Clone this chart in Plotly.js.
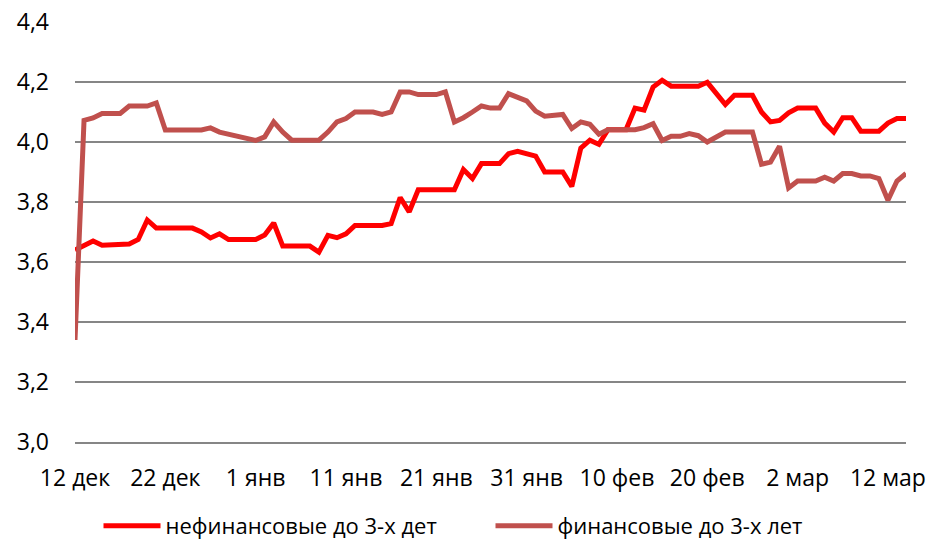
<!DOCTYPE html>
<html>
<head>
<meta charset="utf-8">
<script src="https://cdn.plot.ly/plotly-3.0.1.min.js"></script>
<style>
html,body{margin:0;padding:0;background:#fff;}
#chart{width:930px;height:546px;}
</style>
</head>
<body>
<div id="chart"></div>
<script>
// Series 1: нефинансовые до 3-х дет
var nfDates = ['2014-12-12','2014-12-14','2014-12-15','2014-12-17','2014-12-18','2014-12-19','2014-12-20','2014-12-21','2014-12-25','2014-12-26','2014-12-27','2014-12-28','2014-12-29','2015-01-01','2015-01-02','2015-01-03','2015-01-04','2015-01-07','2015-01-08','2015-01-09','2015-01-10','2015-01-11','2015-01-12','2015-01-15','2015-01-16','2015-01-17','2015-01-18','2015-01-19','2015-01-23','2015-01-24','2015-01-25','2015-01-26','2015-01-28','2015-01-29','2015-01-30','2015-02-01','2015-02-02','2015-02-04','2015-02-05','2015-02-06','2015-02-07','2015-02-08','2015-02-09','2015-02-11','2015-02-12','2015-02-13','2015-02-14','2015-02-15','2015-02-16','2015-02-19','2015-02-20','2015-02-22','2015-02-23','2015-02-25','2015-02-26','2015-02-27','2015-02-28','2015-03-01','2015-03-02','2015-03-04','2015-03-05','2015-03-06','2015-03-07','2015-03-08','2015-03-09','2015-03-11','2015-03-12','2015-03-13','2015-03-14'];
var nfValues = [3.64,3.67,3.656,3.656,3.66,3.675,3.74,3.713,3.713,3.70,3.68,3.694,3.675,3.675,3.69,3.73,3.653,3.653,3.633,3.689,3.681,3.694,3.722,3.722,3.728,3.815,3.767,3.841,3.841,3.908,3.878,3.928,3.928,3.961,3.969,3.953,3.90,3.90,3.852,3.98,4.006,3.992,4.041,4.041,4.113,4.106,4.183,4.206,4.186,4.186,4.199,4.125,4.156,4.156,4.10,4.067,4.072,4.097,4.113,4.113,4.063,4.033,4.081,4.081,4.036,4.036,4.063,4.078,4.078];

// Series 2: финансовые до 3-х лет
var fDates = ['2014-12-12','2014-12-13','2014-12-14','2014-12-15','2014-12-17','2014-12-18','2014-12-20','2014-12-21','2014-12-22','2014-12-26','2014-12-27','2014-12-28','2015-01-01','2015-01-02','2015-01-03','2015-01-04','2015-01-05','2015-01-08','2015-01-09','2015-01-10','2015-01-11','2015-01-12','2015-01-14','2015-01-15','2015-01-16','2015-01-17','2015-01-18','2015-01-19','2015-01-21','2015-01-22','2015-01-23','2015-01-24','2015-01-25','2015-01-26','2015-01-27','2015-01-28','2015-01-29','2015-01-30','2015-01-31','2015-02-01','2015-02-02','2015-02-04','2015-02-05','2015-02-06','2015-02-07','2015-02-08','2015-02-09','2015-02-12','2015-02-13','2015-02-14','2015-02-15','2015-02-16','2015-02-17','2015-02-18','2015-02-19','2015-02-20','2015-02-21','2015-02-22','2015-02-25','2015-02-26','2015-02-27','2015-02-28','2015-03-01','2015-03-02','2015-03-04','2015-03-05','2015-03-06','2015-03-07','2015-03-08','2015-03-09','2015-03-10','2015-03-11','2015-03-12','2015-03-13','2015-03-14'];
var fValues = [3.34,4.072,4.08,4.095,4.095,4.12,4.12,4.13,4.04,4.04,4.047,4.033,4.005,4.017,4.067,4.033,4.006,4.006,4.033,4.067,4.078,4.10,4.10,4.092,4.10,4.167,4.167,4.158,4.158,4.167,4.067,4.081,4.10,4.12,4.113,4.113,4.161,4.15,4.137,4.103,4.086,4.092,4.045,4.067,4.059,4.026,4.041,4.041,4.048,4.061,4.005,4.019,4.019,4.028,4.021,4.00,4.017,4.033,4.033,3.926,3.933,3.986,3.847,3.87,3.87,3.883,3.87,3.895,3.895,3.887,3.887,3.878,3.806,3.87,3.895];

var seriesNames = ['нефинансовые до 3-х дет', 'финансовые до 3-х лет'];
var tickDates = ['2014-12-12','2014-12-22','2015-01-01','2015-01-11','2015-01-21','2015-01-31','2015-02-10','2015-02-20','2015-03-02','2015-03-12'];
var tickLabels = ['12 дек','22 дек','1 янв','11 янв','21 янв','31 янв','10 фев','20 фев','2 мар','12 мар'];

var FONT = '"Open Sans", "Noto Sans", sans-serif';

var traces = [
  {x: nfDates, y: nfValues, name: seriesNames[0], type: 'scatter', mode: 'lines',
   line: {color: '#FF0000', width: 5}},
  {x: fDates, y: fValues, name: seriesNames[1], type: 'scatter', mode: 'lines',
   line: {color: '#C0504D', width: 5}}
];

var layout = {
  width: 930, height: 546,
  margin: {l: 75, r: 24, t: 22, b: 104, autoexpand: false},
  paper_bgcolor: '#ffffff', plot_bgcolor: '#ffffff',
  separators: ', ',
  font: {family: FONT, size: 23, color: '#000000'},
  showlegend: true,
  legend: {orientation: 'h', x: 0.5, xanchor: 'center', y: -0.2, yanchor: 'middle',
           font: {family: FONT, size: 22, color: '#000'}, traceorder: 'normal',
           itemwidth: 57, entrywidth: 320, bgcolor: 'rgba(0,0,0,0)'},
  xaxis: {
    type: 'date', range: ['2014-12-12', '2015-03-14'],
    tickmode: 'array', tickvals: tickDates, ticktext: tickLabels,
    showgrid: false, zeroline: false, showline: true, linecolor: '#868686', linewidth: 1.5,
    ticks: '', ticklabelstandoff: 15, tickfont: {family: FONT, size: 23, color: '#000'}
  },
  yaxis: {
    range: [3.0, 4.4], dtick: 0.2, tick0: 3.0, tickformat: '.1f',
    showgrid: true, gridcolor: '#868686', gridwidth: 1.5, zeroline: false, showline: false,
    ticks: '', ticklabelstandoff: 25, tickfont: {family: FONT, size: 23, color: '#000'}
  }
};

Plotly.newPlot('chart', traces, layout, {displayModeBar: false, staticPlot: true});
</script>
</body>
</html>
